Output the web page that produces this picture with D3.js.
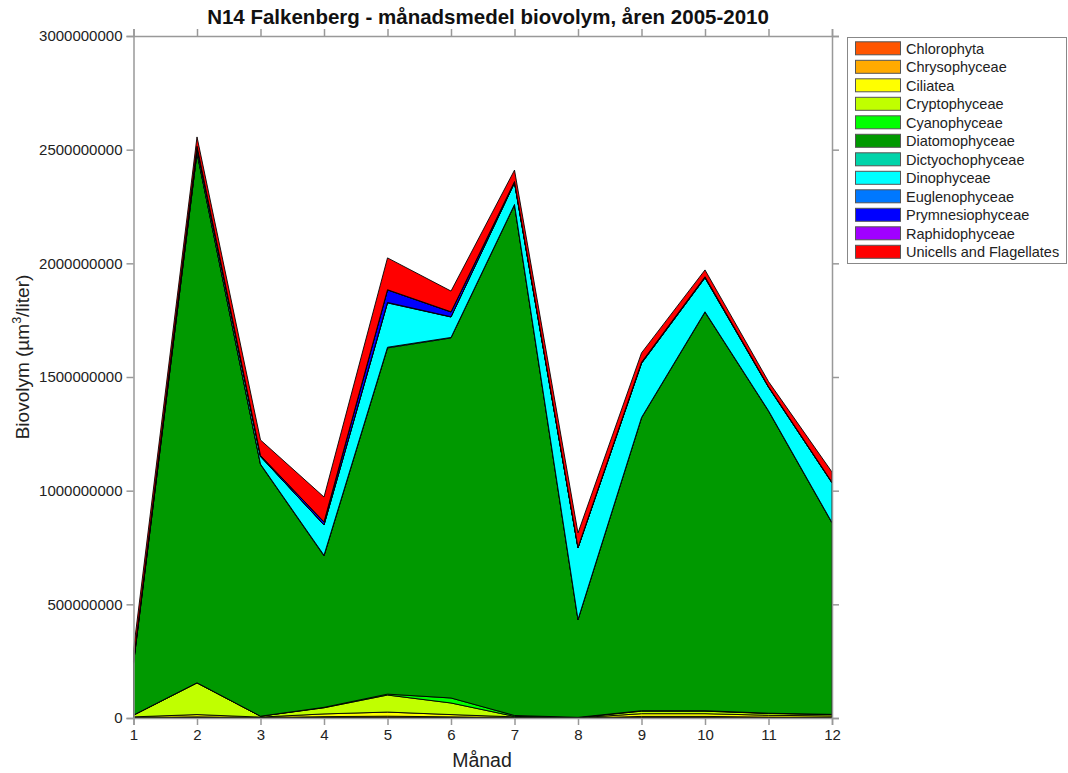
<!DOCTYPE html>
<html>
<head>
<meta charset="utf-8">
<script src="https://cdn.jsdelivr.net/npm/d3@7/dist/d3.min.js"></script>
<style>
  body { margin: 0; background: #fff; }
  svg { display: block; font-family: "Liberation Sans", Arial, sans-serif; }
</style>
</head>
<body>
<svg id="chart" width="1068" height="773"></svg>
<script>
// Months along the x axis
const months = [1, 2, 3, 4, 5, 6, 7, 8, 9, 10, 11, 12];

// Monthly mean biovolume per group (µm³/liter), stacked in this order
const groups = [
  "Chlorophyta", "Chrysophyceae", "Ciliatea", "Cryptophyceae", "Cyanophyceae",
  "Diatomophyceae", "Dictyochophyceae", "Dinophyceae", "Euglenophyceae",
  "Prymnesiophyceae", "Raphidophyceae", "Unicells and Flagellates"
];
const groupColors = [
  "#ff5500", "#ffaa00", "#ffff00", "#c0ff00", "#00ff00",
  "#009900", "#00d4aa", "#00ffff", "#0078ff",
  "#0000ff", "#a000ff", "#ff0000"
];

const chlorophyta      = [1e6, 2e6, 1e6, 2e6, 3e6, 2e6, 1e6, 0, 2e6, 2e6, 1e6, 1e6];
const chrysophyceae    = [1e6, 3e6, 1e6, 4e6, 5e6, 3e6, 1e6, 0, 5e6, 5e6, 3e6, 2e6];
const ciliatea         = [3e6, 10e6, 2e6, 12e6, 18e6, 10e6, 3e6, 1e6, 12e6, 12e6, 8e6, 6e6];
const cryptophyceae    = [7e6, 139e6, 4e6, 27e6, 75e6, 51e6, 2e6, 1e6, 11e6, 11e6, 8e6, 6e6];
const cyanophyceae     = [1e6, 1e6, 0, 2e6, 4e6, 22e6, 4e6, 1e6, 2e6, 2e6, 1e6, 1e6];
const diatomophyceae   = [227e6, 2331e6, 1107e6, 666e6, 1523e6, 1584e6, 2246e6, 429e6, 1288e6, 1753e6, 1329e6, 842e6];
const dictyochophyceae = [1e6, 2e6, 2e6, 3e6, 3e6, 2e6, 2e6, 2e6, 2e6, 2e6, 2e6, 2e6];
const dinophyceae      = [9e6, 22e6, 33e6, 133e6, 195e6, 90e6, 95e6, 314e6, 238e6, 149e6, 103e6, 174e6];
const euglenophyceae   = [0, 1e6, 1e6, 1e6, 2e6, 1e6, 1e6, 1e6, 1e6, 1e6, 1e6, 1e6];
const prymnesiophyceae = [2e6, 3e6, 4e6, 12e6, 55e6, 21e6, 4e6, 2e6, 3e6, 3e6, 2e6, 2e6];
const raphidophyceae   = [0, 1e6, 0, 1e6, 1e6, 1e6, 1e6, 0, 1e6, 1e6, 0, 0];
const unicells         = [48e6, 41e6, 68e6, 109e6, 140e6, 91e6, 50e6, 63e6, 41e6, 30e6, 22e6, 45e6];

const yTicks = [0, 500000000, 1000000000, 1500000000, 2000000000, 2500000000, 3000000000];

const series = [
  chlorophyta, chrysophyceae, ciliatea, cryptophyceae, cyanophyceae,
  diatomophyceae, dictyochophyceae, dinophyceae, euglenophyceae,
  prymnesiophyceae, raphidophyceae, unicells
];

// Table of rows, one per month, for d3.stack
const table = months.map((m, i) => {
  const row = { month: m };
  groups.forEach((g, k) => { row[g] = series[k][i]; });
  return row;
});

const svg = d3.select("#chart");
const plotLeft = 133.5, plotRight = 832, plotTop = 36, plotBottom = 718;
const axisColor = "#999";

const x = d3.scaleLinear().domain([1, 12]).range([plotLeft, plotRight]);
const y = d3.scaleLinear().domain([0, 3000000000]).range([plotBottom, plotTop]);

const stacked = d3.stack().keys(groups)(table);

const area = d3.area()
  .x(d => x(d.data.month))
  .y0(d => y(d[0]))
  .y1(d => y(d[1]))
  .curve(d3.curveLinear);

const plot = svg.append("g");
plot.selectAll("path.layer")
  .data(stacked)
  .join("path")
  .attr("class", "layer")
  .attr("d", area)
  .attr("fill", (d, i) => groupColors[i])
  .attr("stroke", "#000")
  .attr("stroke-width", 0.9)
  .attr("stroke-linejoin", "round");

// Frame axes
const fmt = d3.format("d");
const axL = svg.append("g").attr("transform", `translate(${plotLeft},0)`)
  .call(d3.axisLeft(y).tickValues(yTicks).tickFormat(fmt).tickSizeOuter(0).tickSize(7).tickPadding(4));
const axR = svg.append("g").attr("transform", `translate(${plotRight},0)`)
  .call(d3.axisRight(y).tickValues(yTicks).tickFormat("").tickSizeOuter(0).tickSize(7));
const axB = svg.append("g").attr("transform", `translate(0,${plotBottom})`)
  .call(d3.axisBottom(x).tickValues(months).tickFormat(fmt).tickSizeOuter(0).tickSize(7).tickPadding(4));
const axT = svg.append("g").attr("transform", `translate(0,${plotTop})`)
  .call(d3.axisTop(x).tickValues(months).tickFormat("").tickSizeOuter(0).tickSize(7));

[axL, axR, axB, axT].forEach(a => {
  a.selectAll("path.domain").attr("stroke", axisColor).attr("stroke-width", 1.5);
  a.selectAll(".tick line").attr("stroke", axisColor).attr("stroke-width", 1.5);
  a.selectAll(".tick text").attr("fill", "#222").attr("font-size", 15)
    .attr("font-family", "'Liberation Sans', Arial, sans-serif");
});

// Title and axis labels
svg.append("text")
  .attr("x", 488).attr("y", 24)
  .attr("text-anchor", "middle")
  .attr("font-size", 20.5).attr("font-weight", "bold").attr("fill", "#111")
  .text("N14 Falkenberg - månadsmedel biovolym, åren 2005-2010");

svg.append("text")
  .attr("x", 482).attr("y", 767)
  .attr("text-anchor", "middle")
  .attr("font-size", 19.5).attr("fill", "#222")
  .text("Månad");

const yl = svg.append("text")
  .attr("transform", `translate(29,357) rotate(-90)`)
  .attr("text-anchor", "middle")
  .attr("font-size", 19).attr("fill", "#222");
yl.append("tspan").text("Biovolym (µm");
yl.append("tspan").attr("font-size", 12.5).attr("dy", -8).text("3");
yl.append("tspan").attr("dy", 8).text("/liter)");

// Legend
const lg = svg.append("g");
lg.append("rect")
  .attr("x", 847.5).attr("y", 37.5).attr("width", 219).attr("height", 226)
  .attr("fill", "#fff").attr("stroke", "#888").attr("stroke-width", 1);
const rows = lg.selectAll("g.row").data(groups).join("g")
  .attr("class", "row")
  .attr("transform", (d, i) => `translate(0,${48.3 + i * 18.5})`);
rows.append("rect")
  .attr("x", 855.5).attr("y", -6.5).attr("width", 45).attr("height", 13)
  .attr("fill", (d, i) => groupColors[i])
  .attr("stroke", "#555").attr("stroke-width", 1);
rows.append("text")
  .attr("x", 906).attr("y", 5.5)
  .attr("font-size", 14.5).attr("fill", "#222")
  .text(d => d);
</script>
</body>
</html>
